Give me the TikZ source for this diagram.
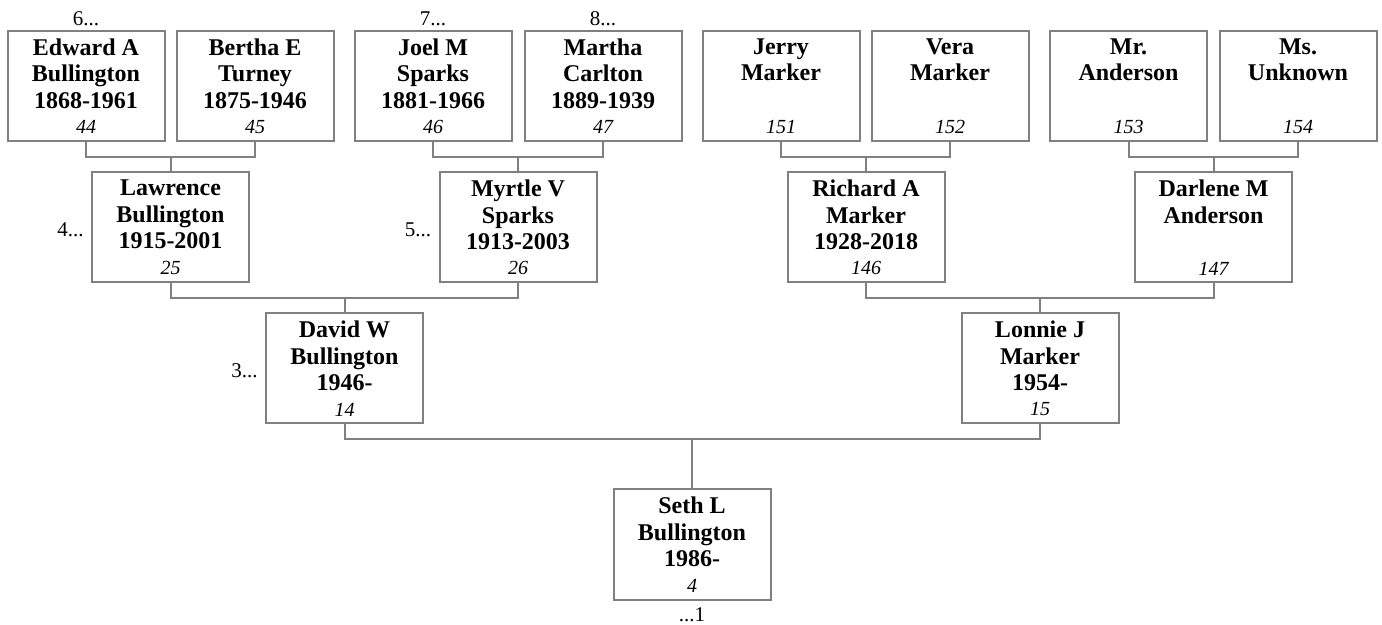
\documentclass[tikz,border=0pt]{standalone}
\usepackage{fontspec}
\setmainfont{Liberation Serif}
\usepackage{tikz}
\usetikzlibrary{positioning}

\definecolor{linegray}{RGB}{128,128,128}
\tikzset{
  person/.style={draw=linegray, line width=1pt, minimum width=78.5pt, minimum height=55pt, inner sep=0pt},
  who/.style={align=center, inner sep=0pt, font=\fontsize{12}{13.3}\selectfont\bfseries},
  idnum/.style={inner sep=0pt, font=\fontsize{10}{12}\selectfont\itshape},
  more/.style={inner sep=0pt, font=\fontsize{10.5}{12}\selectfont},
  link/.style={draw=linegray, line width=1pt}
}

\begin{document}
\begin{tikzpicture}[x=0.5pt, y=-0.5pt]
\useasboundingbox (0,0) rectangle (1382,625);

\foreach \id/\x/\y/\txt/\num in {
ed/86/86/{Edward A\\Bullington\\1868-1961}/44,
be/255/86/{Bertha E\\Turney\\1875-1946}/45,
jo/433/86/{Joel M\\Sparks\\1881-1966}/46,
ma/603/86/{Martha\\Carlton\\1889-1939}/47,
je/781/86/{Jerry\\Marker}/151,
ve/950/86/{Vera\\Marker}/152,
mr/1128.5/86/{Mr.\\Anderson}/153,
ms/1298/86/{Ms.\\Unknown}/154,
la/170.5/227.5/{Lawrence\\Bullington\\1915-2001}/25,
my/518/227.5/{Myrtle V\\Sparks\\1913-2003}/26,
ri/866/227.5/{Richard A\\Marker\\1928-2018}/146,
da/1213.5/227.5/{Darlene M\\Anderson}/147,
dw/344.5/368.5/{David W\\Bullington\\1946-}/14,
lo/1040/368.5/{Lonnie J\\Marker\\1954-}/15,
se/692/544.5/{Seth L\\Bullington\\1986-}/4%
} {
\node[person] (\id) at (\x,\y) {};
\node[who, below=4pt of \id.north] (\id-name) {\txt};
\node[idnum, above=4pt of \id.south] (\id-num) {\num};
}

% generation numbers
\node[more, above=2pt of ed.north] (ed-more) {6...};
\node[more, above=2pt of jo.north] (jo-more) {7...};
\node[more, above=2pt of ma.north] (ma-more) {8...};
\node[more, left=3.5pt of la, yshift=-1.2pt] (la-more) {4...};
\node[more, left=3.5pt of my, yshift=-1.2pt] (my-more) {5...};
\node[more, left=3.5pt of dw, yshift=-1.2pt] (dw-more) {3...};
\node[more, below=3.5pt of se.south] (se-more) {...1};

\foreach \f/\m/\c in {ed/be/la, jo/ma/my, je/ve/ri, mr/ms/da, la/my/dw, ri/da/lo, dw/lo/se} {
\draw[link] (\f.south) -- ++(0,15) coordinate (\c-join) -| (\m.south);
\draw[link] (\c.north) -- (\c.north |- \c-join);
}

\end{tikzpicture}
\end{document}
